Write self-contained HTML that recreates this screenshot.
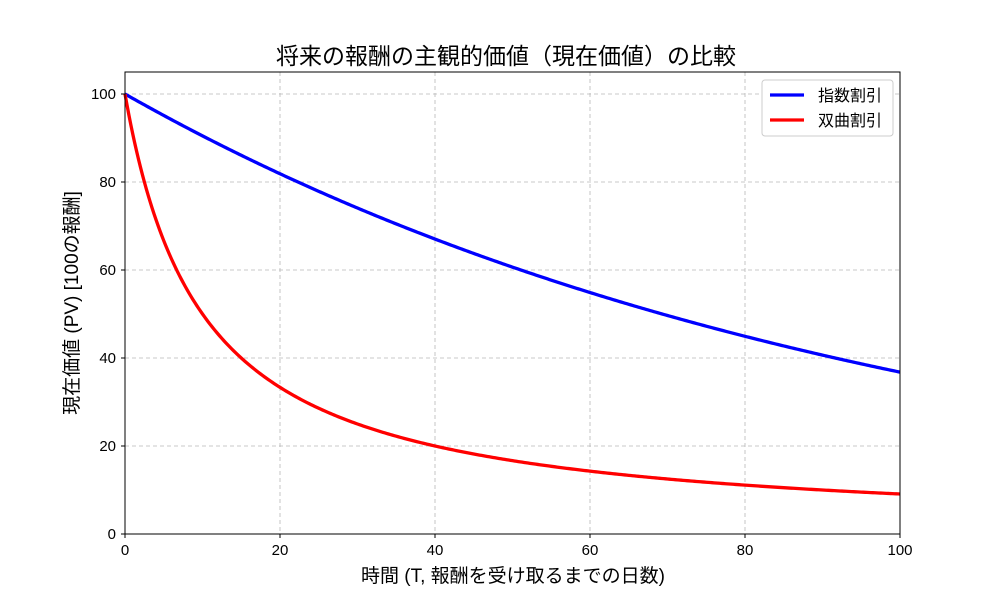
<!DOCTYPE html>
<html><head><meta charset="utf-8"><style>
body{margin:0;background:#fff}
text{font-family:"Liberation Sans","Noto Sans CJK JP",sans-serif;fill:#000}
</style></head><body>
<svg id="s" width="1000" height="600" xmlns="http://www.w3.org/2000/svg">
<rect width="1000" height="600" fill="#fff"/>
<g id="grid" stroke="#b8b8b8" stroke-width="0.8" stroke-dasharray="4,3"></g>
<path id="exp" fill="none" stroke="#0000ff" stroke-width="3.3"/>
<path id="hyp" fill="none" stroke="#ff0000" stroke-width="3.3"/>
<rect x="125" y="72" width="775" height="462" fill="none" stroke="#000" stroke-width="1"/>
<g id="ticks" font-size="15"></g>
<text x="506" y="64" font-size="23" text-anchor="middle">将来の報酬の主観的価値（現在価値）の比較</text>
<text x="513" y="582" font-size="19" text-anchor="middle">時間 (T, 報酬を受け取るまでの日数)</text>
<text transform="translate(78,303) rotate(-90)" font-size="19" text-anchor="middle">現在価値 (PV) [100の報酬]</text>
<rect x="762" y="80" width="131" height="56" rx="3" fill="#fff" stroke="#ccc"/>
<line x1="770" y1="95" x2="804" y2="95" stroke="#0000ff" stroke-width="3.3"/>
<text x="818" y="101" font-size="16">指数割引</text>
<line x1="770" y1="120" x2="804" y2="120" stroke="#ff0000" stroke-width="3.3"/>
<text x="818" y="126" font-size="16">双曲割引</text>
</svg>
<script>
const X=t=>125+7.75*t, Y=v=>534-4.4*v;
let e="",h="";
for(let i=0;i<=400;i++){const t=i/4;e+=(i?"L":"M")+X(t).toFixed(2)+","+Y(100*Math.exp(-0.01*t)).toFixed(2);h+=(i?"L":"M")+X(t).toFixed(2)+","+Y(100/(1+0.1*t)).toFixed(2);}
document.getElementById("exp").setAttribute("d",e);
document.getElementById("hyp").setAttribute("d",h);
const g=document.getElementById("grid"),tk=document.getElementById("ticks"),ns="http://www.w3.org/2000/svg";
function el(p,n,a,txt){const x=document.createElementNS(ns,n);for(const k in a)x.setAttribute(k,a[k]);if(txt!==undefined)x.textContent=txt;p.appendChild(x);}
for(let v=0;v<=100;v+=20){
 el(g,"line",{x1:X(v),x2:X(v),y1:72,y2:534});
 el(g,"line",{x1:125,x2:900,y1:Y(v),y2:Y(v)});
 el(tk,"line",{x1:X(v),x2:X(v),y1:534,y2:538,stroke:"#000"});
 el(tk,"line",{x1:121,x2:125,y1:Y(v),y2:Y(v),stroke:"#000"});
 el(tk,"text",{x:X(v),y:555,"text-anchor":"middle"},v);
 el(tk,"text",{x:116,y:Y(v)+5,"text-anchor":"end"},v);
}
</script>
</body></html>
